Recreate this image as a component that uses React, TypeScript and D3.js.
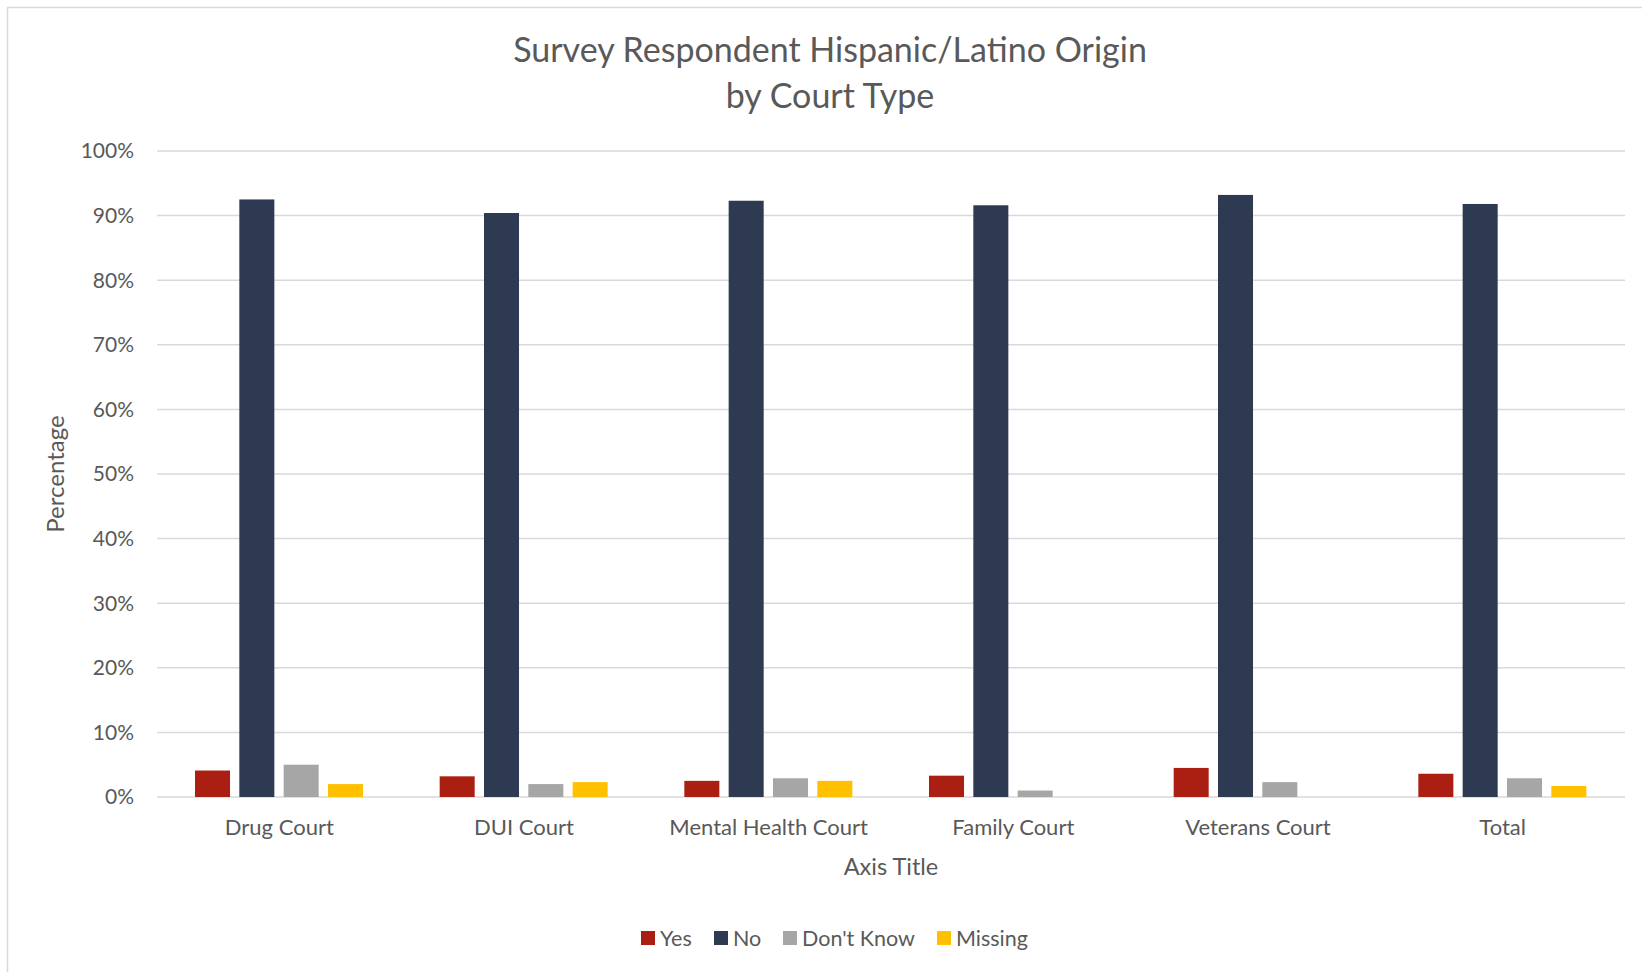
import React from "react";
import * as d3 from "d3";

const categories = ["Drug Court", "DUI Court", "Mental Health Court", "Family Court", "Veterans Court", "Total"];
const seriesNames = ["Yes", "No", "Don't Know", "Missing"];
const yesValues = [0.041, 0.032, 0.025, 0.033, 0.045, 0.036];
const noValues = [0.925, 0.904, 0.923, 0.916, 0.932, 0.918];
const dontKnowValues = [0.050, 0.020, 0.029, 0.010, 0.023, 0.029];
const missingValues = [0.020, 0.023, 0.025, 0, 0, 0.017];
const seriesColors = ["#AB1F13", "#2E3A52", "#A6A6A6", "#FFC000"];
const yTicks = [0, 0.1, 0.2, 0.3, 0.4, 0.5, 0.6, 0.7, 0.8, 0.9, 1.0];
const titleLines = ["Survey Respondent Hispanic/Latino Origin", "by Court Type"];

const W = 1642;
const H = 972;
const FONT = "Lato, 'Open Sans', sans-serif";
const TEXT = "#595959";

export default function App() {
  const seriesValues = [yesValues, noValues, dontKnowValues, missingValues];
  const x0 = d3.scaleBand<string>().domain(categories).range([157, 1625]).padding(0);
  const x1 = d3.scaleBand<string>().domain(seriesNames).range([38, 206]).paddingInner(0.21).paddingOuter(0);
  const y = d3.scaleLinear().domain([0, 1]).range([797, 151]);
  const fmt = d3.format(".0%");

  const legendItems = [
    { name: "Yes", x: 641 },
    { name: "No", x: 714 },
    { name: "Don't Know", x: 783 },
    { name: "Missing", x: 937 },
  ];

  return (
    <svg width={W} height={H} style={{ position: "absolute", left: 0, top: 0, background: "#fff" }} fontFamily={FONT}>
      <rect x={0} y={0} width={W} height={H} fill="#fff" />
      <rect x={7.5} y={7.5} width={W} height={H} fill="none" stroke="#D9D9D9" strokeWidth={1.5} />
      <text x={830} textAnchor="middle" fill={TEXT} fontSize={34}>
        <tspan x={830} y={62}>{titleLines[0]}</tspan>
        <tspan x={830} y={108}>{titleLines[1]}</tspan>
      </text>
      {yTicks.map((t) => (
        <g key={t}>
          <line x1={157} x2={1625} y1={y(t)} y2={y(t)} stroke="#D9D9D9" strokeWidth={1.5} />
          <text x={134} y={y(t)} dy="0.35em" textAnchor="end" fill={TEXT} fontSize={21}>
            {fmt(t)}
          </text>
        </g>
      ))}
      {categories.map((c, ci) => (
        <g key={c} transform={`translate(${x0(c)},0)`}>
          {seriesNames.map((s, si) => {
            const v = seriesValues[si][ci];
            if (!v) return null;
            return (
              <rect
                key={s}
                x={x1(s)}
                y={y(v)}
                width={x1.bandwidth()}
                height={y(0) - y(v)}
                fill={seriesColors[si]}
              />
            );
          })}
          <text x={x0.bandwidth() / 2} y={835} textAnchor="middle" fill={TEXT} fontSize={22}>
            {c}
          </text>
        </g>
      ))}
      <text x={891} y={875} textAnchor="middle" fill={TEXT} fontSize={23.5}>
        Axis Title
      </text>
      <text transform="translate(64,474) rotate(-90)" textAnchor="middle" fill={TEXT} fontSize={24}>
        Percentage
      </text>
      {legendItems.map((l, i) => (
        <g key={l.name}>
          <rect x={l.x} y={931} width={14} height={14} fill={seriesColors[i]} />
          <text x={l.x + 19} y={938} dy="0.35em" fill={TEXT} fontSize={21.5}>
            {seriesNames[i]}
          </text>
        </g>
      ))}
    </svg>
  );
}
